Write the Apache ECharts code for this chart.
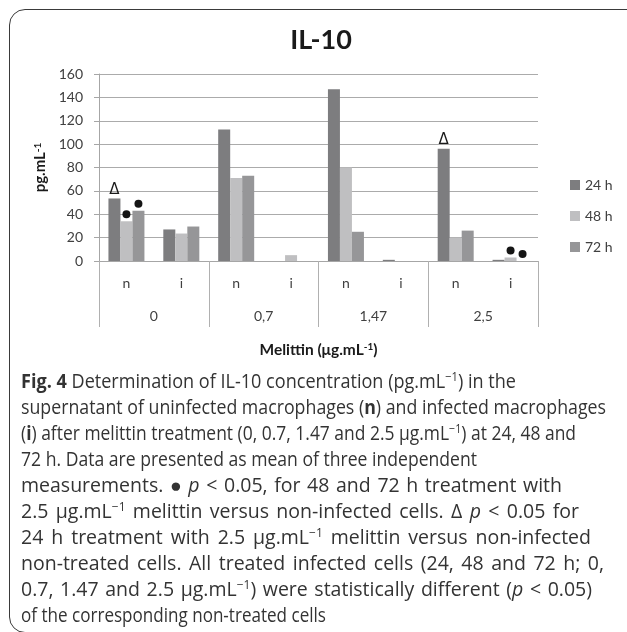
<!DOCTYPE html>
<html><head><meta charset="utf-8">
<script src="https://cdn.jsdelivr.net/npm/echarts@6/dist/echarts.min.js"></script>
<style>
html,body{margin:0;padding:0;width:627px;height:632px;overflow:hidden;background:#fff;}
#frame{position:absolute;left:9px;top:9px;width:680px;height:624px;border:1.5px solid #3a3a3a;border-radius:16px;box-sizing:border-box;}
#chart{position:absolute;left:0;top:0;width:627px;height:370px;}
#caption{position:absolute;left:0;top:0;width:627px;height:632px;font-family:"Open Sans";font-size:19.5px;color:#333;}
.ln{position:absolute;left:21px;white-space:nowrap;line-height:22px;transform-origin:0 50%;}
sup{font-size:12px;vertical-align:0.6em;line-height:0;}
</style></head>
<body>
<div id="frame"></div>
<div id="chart"></div>
<div id="caption">
<div class="ln" data-y="381" data-end="516"><b>Fig. 4</b> Determination of IL-10 concentration (pg.mL<sup>−1</sup>) in the</div>
<div class="ln" data-y="407" data-end="606">supernatant of uninfected macrophages (<b>n</b>) and infected macrophages</div>
<div class="ln" data-y="433" data-end="576">(<b>i</b>) after melittin treatment (0, 0.7, 1.47 and 2.5 μg.mL<sup>−1</sup>) at 24, 48 and</div>
<div class="ln" data-y="459" data-end="477">72 h. Data are presented as mean of three independent</div>
<div class="ln" data-y="485" data-end="562">measurements. ● <i>p</i> &lt; 0.05, for 48 and 72 h treatment with</div>
<div class="ln" data-y="511" data-end="579">2.5 μg.mL<sup>−1</sup> melittin versus non-infected cells. Δ <i>p</i> &lt; 0.05 for</div>
<div class="ln" data-y="537" data-end="591">24 h treatment with 2.5 μg.mL<sup>−1</sup> melittin versus non-infected</div>
<div class="ln" data-y="563" data-end="604">non-treated cells. All treated infected cells (24, 48 and 72 h; 0,</div>
<div class="ln" data-y="589" data-end="592">0.7, 1.47 and 2.5 μg.mL<sup>−1</sup>) were statistically different (<i>p</i> &lt; 0.05)</div>
<div class="ln" data-y="615" data-end="326">of the corresponding non-treated cells</div>
</div>
<script>
const categories = ['n','i','n','i','n','i','n','i'];
const groups = ['0','0,7','1,47','2,5'];
const seriesNames = ['24 h','48 h','72 h'];
const h24 = [53.5, 27, 112.5, 0, 147, 1, 96, 1];
const h48 = [34, 23.5, 71, 5, 80, 0, 20, 3];
const h72 = [43, 29.5, 73, 0, 25, 0, 26, 0];
const mark24 = ['Δ','','','','','','Δ',''];
const mark48 = ['●','','','','','','','●'];
const mark72 = ['●','','','','','','','●'];
const colors = ['#7d7d7f','#bfbfc1','#969698'];

// caption layout
document.querySelectorAll('.ln').forEach(el=>{
  const y = +el.dataset.y, end = +el.dataset.end;
  el.style.top = (y-11)+'px';
  if(end>0){
    const target = end-21;
    const nat = el.getBoundingClientRect().width;
    const spaces = (el.textContent.match(/ /g)||[]).length;
    if(nat < target){ el.style.wordSpacing = ((target-nat)/spaces)+'px'; }
    else { el.style.transform = 'scaleX('+(target/nat)+')'; }
  }
});

const font = 'Lato';
function items(vals, marks){
  return vals.map((v,i)=>{
    if(marks[i]==='Δ') return {value:v,label:{show:true,position:'top',distance:1,formatter:'Δ',fontSize:15,color:'#1a1a1a',fontFamily:'DejaVu Sans'}};
    if(marks[i]==='●') return {value:v,label:{show:true,position:'top',distance:3,formatter:'{d|}',rich:{d:{width:8,height:8,borderRadius:4,backgroundColor:'#151515'}}}};
    return v;
  });
}
const chart = echarts.init(document.getElementById('chart'));
chart.setOption({
  animation:false,
  textStyle:{fontFamily:font},
  title:{text:'IL-10',left:316,top:22,textAlign:'center',textStyle:{fontSize:27,fontWeight:'bold',color:'#1a1a1a',fontFamily:font}},
  legend:{data:seriesNames,orient:'vertical',left:565,top:173,itemWidth:10,itemHeight:10,itemGap:17,icon:'rect',
    textStyle:{fontSize:14,color:'#404040',fontFamily:font}},
  grid:{left:99,top:74,width:439,height:187},
  xAxis:[
    {type:'category',data:categories,position:'bottom',
     axisLine:{lineStyle:{color:'#a6a6a6',width:1}},axisTick:{show:false},
     axisLabel:{margin:15,fontSize:14,color:'#404040',fontFamily:font}},
    {type:'category',data:groups,position:'bottom',
     axisLine:{show:false},
     axisTick:{show:true,length:66,interval:0,lineStyle:{color:'#b0b0b0'}},
     axisLabel:{margin:48,fontSize:14,color:'#404040',fontFamily:font},
     name:'{a|Melittin (μg.mL}{s|-1}{a|)}',nameLocation:'middle',nameGap:81,
     nameTextStyle:{rich:{a:{fontSize:15.5,fontWeight:'bold',color:'#1a1a1a',fontFamily:font},s:{fontSize:10,fontWeight:'bold',color:'#1a1a1a',verticalAlign:'top',fontFamily:font}}}}
  ],
  yAxis:{type:'value',min:0,max:160,interval:20,
    axisLine:{show:true,lineStyle:{color:'#a6a6a6'}},
    axisTick:{show:true,length:5,lineStyle:{color:'#a6a6a6'}},
    splitLine:{lineStyle:{color:'#ababab',width:1}},
    axisLabel:{margin:16,fontSize:14,color:'#404040',fontFamily:font},
    name:'{a|pg.mL}{s|-1}',nameLocation:'middle',nameGap:46,
    nameTextStyle:{rich:{a:{fontSize:15,fontWeight:'bold',color:'#1a1a1a',fontFamily:font},s:{fontSize:10,fontWeight:'bold',color:'#1a1a1a',verticalAlign:'top',fontFamily:font}}}},
  series:[
    {name:seriesNames[0],type:'bar',barWidth:12,barGap:'0%',data:items(h24,mark24),itemStyle:{color:colors[0]}},
    {name:seriesNames[1],type:'bar',barWidth:12,barGap:'0%',data:items(h48,mark48),itemStyle:{color:colors[1]}},
    {name:seriesNames[2],type:'bar',barWidth:12,barGap:'0%',data:items(h72,mark72),itemStyle:{color:colors[2]}}
  ]
});
</script>
</body></html>
